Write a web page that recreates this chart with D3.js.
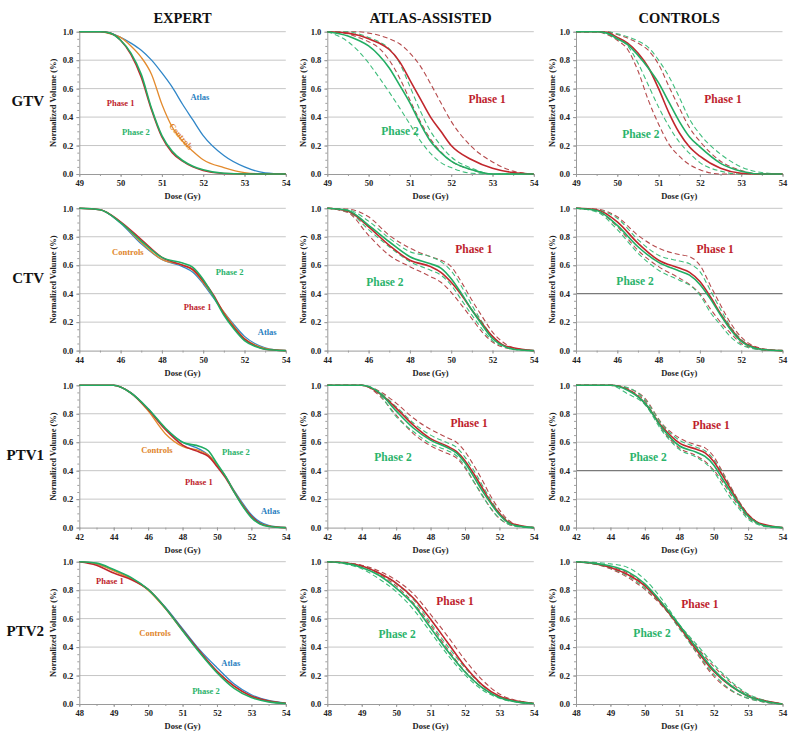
<!DOCTYPE html>
<html><head><meta charset="utf-8">
<script src="https://cdn.jsdelivr.net/npm/d3@7"></script>
<style>body{margin:0;background:#fff}</style></head>
<body><svg id="c" width="800" height="742"></svg>
<script>
// ---------------- DATA ----------------
const rows = ["GTV", "CTV", "PTV1", "PTV2"];
const columns = ["EXPERT", "ATLAS-ASSISTED", "CONTROLS"];
const doseDomains = [[49, 54], [44, 54], [42, 54], [48, 54]];
const doseTickStep = [1, 2, 2, 1];
const volumeTicks = [0, 0.2, 0.4, 0.6, 0.8, 1.0];

// dose sample grids (Gy), one per structure
const gtvDose  = [49, 49.5, 49.75, 50, 50.25, 50.5, 50.75, 51, 51.25, 51.5, 51.75, 52, 52.5, 53, 53.5, 54];
const ctvDose  = [44, 45, 46, 47, 48, 49, 49.5, 50, 50.5, 51, 51.5, 52, 52.5, 53, 54];
const ptv1Dose = [42, 44, 45, 46, 47, 48, 49, 49.5, 50, 50.5, 51, 51.5, 52, 52.5, 53, 54];
const ptv2Dose = [48, 48.5, 49, 49.5, 50, 50.5, 51, 51.5, 52, 52.5, 53, 53.5, 54];

// GTV
const gtvExpP1  = [1, 1, 0.99, 0.94, 0.84, 0.68, 0.45, 0.26, 0.15, 0.09, 0.05, 0.025, 0.003, 0, 0, 0];
const gtvExpP2  = [1, 1, 0.99, 0.94, 0.85, 0.70, 0.46, 0.27, 0.16, 0.095, 0.055, 0.03, 0.005, 0, 0, 0];
const gtvExpCtl = [1, 1, 0.985, 0.96, 0.9, 0.82, 0.7, 0.49, 0.33, 0.23, 0.16, 0.1, 0.045, 0.01, 0, 0];
const gtvExpAtl = [1, 1, 0.99, 0.96, 0.92, 0.87, 0.8, 0.71, 0.61, 0.49, 0.38, 0.27, 0.13, 0.05, 0.008, 0];
const gtvAtlP1   = [1, 0.99, 0.975, 0.95, 0.92, 0.875, 0.79, 0.66, 0.53, 0.4, 0.3, 0.2, 0.1, 0.04, 0.01, 0];
const gtvAtlP1hi = [1, 1, 1, 0.99, 0.975, 0.95, 0.915, 0.85, 0.76, 0.635, 0.5, 0.37, 0.19, 0.085, 0.02, 0];
const gtvAtlP1lo = [1, 0.985, 0.96, 0.93, 0.885, 0.8, 0.675, 0.52, 0.37, 0.245, 0.155, 0.09, 0.03, 0, 0, 0];
const gtvAtlP2   = [1, 0.97, 0.94, 0.9, 0.835, 0.745, 0.625, 0.5, 0.355, 0.23, 0.15, 0.09, 0.03, 0, 0, 0];
const gtvAtlP2hi = [1, 1, 0.985, 0.96, 0.93, 0.88, 0.78, 0.615, 0.445, 0.3, 0.2, 0.12, 0.04, 0, 0, 0];
const gtvAtlP2lo = [1, 0.93, 0.865, 0.78, 0.68, 0.575, 0.465, 0.35, 0.235, 0.145, 0.08, 0.045, 0.005, 0, 0, 0];
const gtvCtlP1   = [1, 1, 0.995, 0.96, 0.92, 0.85, 0.75, 0.6, 0.43, 0.29, 0.19, 0.125, 0.04, 0.005, 0, 0];
const gtvCtlP1hi = [1, 1, 1, 0.98, 0.955, 0.92, 0.87, 0.77, 0.615, 0.465, 0.325, 0.23, 0.09, 0.025, 0, 0];
const gtvCtlP1lo = [1, 1, 0.98, 0.94, 0.875, 0.725, 0.52, 0.35, 0.21, 0.125, 0.065, 0.03, 0, 0, 0, 0];
const gtvCtlP2   = [1, 1, 0.99, 0.95, 0.91, 0.835, 0.745, 0.64, 0.505, 0.37, 0.26, 0.19, 0.075, 0.02, 0, 0];
const gtvCtlP2hi = [1, 1, 1, 0.985, 0.965, 0.935, 0.89, 0.8, 0.685, 0.54, 0.385, 0.28, 0.14, 0.05, 0.01, 0];
const gtvCtlP2lo = [1, 1, 0.985, 0.95, 0.9, 0.78, 0.625, 0.47, 0.335, 0.225, 0.145, 0.08, 0.02, 0, 0, 0];

// CTV
const ctvExpP1  = [1, 0.99, 0.905, 0.78, 0.655, 0.6, 0.57, 0.49, 0.39, 0.26, 0.16, 0.08, 0.035, 0.01, 0];
const ctvExpP2  = [1, 0.99, 0.9, 0.77, 0.655, 0.615, 0.585, 0.5, 0.38, 0.25, 0.15, 0.07, 0.03, 0.01, 0];
const ctvExpCtl = [1, 0.99, 0.9, 0.76, 0.64, 0.6, 0.565, 0.48, 0.38, 0.27, 0.17, 0.085, 0.04, 0.015, 0];
const ctvExpAtl = [1, 0.99, 0.895, 0.75, 0.64, 0.59, 0.55, 0.47, 0.37, 0.27, 0.18, 0.1, 0.05, 0.02, 0];
const ctvAtlP1   = [1, 0.98, 0.87, 0.74, 0.635, 0.59, 0.55, 0.48, 0.39, 0.285, 0.19, 0.1, 0.04, 0.02, 0];
const ctvAtlP1hi = [1, 0.995, 0.94, 0.81, 0.72, 0.66, 0.635, 0.59, 0.48, 0.355, 0.24, 0.13, 0.06, 0.02, 0];
const ctvAtlP1lo = [1, 0.97, 0.81, 0.67, 0.59, 0.52, 0.48, 0.41, 0.32, 0.225, 0.13, 0.06, 0.025, 0.01, 0];
const ctvAtlP2   = [1, 0.985, 0.88, 0.765, 0.66, 0.61, 0.58, 0.505, 0.4, 0.285, 0.18, 0.085, 0.035, 0.01, 0];
const ctvAtlP2hi = [1, 0.99, 0.91, 0.79, 0.695, 0.66, 0.625, 0.56, 0.45, 0.32, 0.2, 0.1, 0.04, 0.015, 0];
const ctvAtlP2lo = [1, 0.975, 0.85, 0.73, 0.625, 0.565, 0.53, 0.46, 0.355, 0.25, 0.15, 0.07, 0.03, 0.01, 0];
const ctvCtlP1   = [1, 0.99, 0.905, 0.755, 0.635, 0.58, 0.55, 0.485, 0.38, 0.26, 0.155, 0.07, 0.03, 0.01, 0];
const ctvCtlP1hi = [1, 0.995, 0.94, 0.81, 0.72, 0.675, 0.66, 0.6, 0.46, 0.32, 0.19, 0.095, 0.04, 0.015, 0];
const ctvCtlP1lo = [1, 0.98, 0.87, 0.705, 0.59, 0.51, 0.465, 0.4, 0.295, 0.2, 0.12, 0.05, 0.02, 0.005, 0];
const ctvCtlP2   = [1, 0.985, 0.88, 0.73, 0.62, 0.56, 0.53, 0.465, 0.365, 0.25, 0.145, 0.065, 0.025, 0.008, 0];
const ctvCtlP2hi = [1, 0.99, 0.93, 0.78, 0.67, 0.63, 0.61, 0.555, 0.425, 0.29, 0.165, 0.08, 0.03, 0.01, 0];
const ctvCtlP2lo = [1, 0.975, 0.85, 0.685, 0.565, 0.495, 0.46, 0.39, 0.27, 0.18, 0.095, 0.04, 0.015, 0.005, 0];

// PTV1
const ptv1ExpP1  = [1, 1, 0.946, 0.83, 0.69, 0.58, 0.53, 0.5, 0.43, 0.35, 0.25, 0.155, 0.08, 0.03, 0.01, 0];
const ptv1ExpP2  = [1, 1, 0.946, 0.835, 0.7, 0.6, 0.57, 0.54, 0.45, 0.36, 0.25, 0.15, 0.07, 0.025, 0.008, 0];
const ptv1ExpCtl = [1, 1, 0.946, 0.82, 0.66, 0.57, 0.54, 0.51, 0.44, 0.36, 0.255, 0.16, 0.08, 0.03, 0.012, 0];
const ptv1ExpAtl = [1, 1, 0.948, 0.835, 0.695, 0.6, 0.55, 0.51, 0.44, 0.36, 0.26, 0.17, 0.09, 0.04, 0.015, 0];
const ptv1AtlP1   = [1, 1, 0.946, 0.84, 0.72, 0.625, 0.57, 0.535, 0.47, 0.38, 0.28, 0.18, 0.1, 0.04, 0.02, 0];
const ptv1AtlP1hi = [1, 1, 0.96, 0.875, 0.77, 0.69, 0.63, 0.6, 0.535, 0.44, 0.335, 0.22, 0.125, 0.055, 0.02, 0];
const ptv1AtlP1lo = [1, 1, 0.93, 0.79, 0.66, 0.575, 0.52, 0.49, 0.42, 0.325, 0.23, 0.135, 0.065, 0.025, 0.01, 0];
const ptv1AtlP2   = [1, 1, 0.95, 0.82, 0.7, 0.615, 0.56, 0.525, 0.455, 0.36, 0.26, 0.17, 0.09, 0.035, 0.012, 0];
const ptv1AtlP2hi = [1, 1, 0.955, 0.85, 0.735, 0.65, 0.595, 0.565, 0.495, 0.405, 0.3, 0.195, 0.105, 0.045, 0.015, 0];
const ptv1AtlP2lo = [1, 1, 0.94, 0.78, 0.675, 0.59, 0.54, 0.505, 0.43, 0.325, 0.225, 0.135, 0.065, 0.025, 0.008, 0];
const ptv1CtlP1   = [1, 1, 0.97, 0.875, 0.71, 0.595, 0.55, 0.525, 0.465, 0.37, 0.27, 0.17, 0.09, 0.04, 0.02, 0];
const ptv1CtlP1hi = [1, 1, 0.98, 0.91, 0.73, 0.63, 0.58, 0.56, 0.5, 0.395, 0.285, 0.18, 0.095, 0.04, 0.015, 0];
const ptv1CtlP1lo = [1, 1, 0.97, 0.89, 0.69, 0.56, 0.505, 0.465, 0.405, 0.325, 0.23, 0.145, 0.07, 0.03, 0.01, 0];
const ptv1CtlP2   = [1, 1, 0.965, 0.875, 0.7, 0.575, 0.53, 0.5, 0.44, 0.345, 0.25, 0.16, 0.08, 0.035, 0.012, 0];
const ptv1CtlP2hi = [1, 1, 0.985, 0.9, 0.725, 0.615, 0.565, 0.54, 0.48, 0.385, 0.28, 0.175, 0.09, 0.04, 0.015, 0];
const ptv1CtlP2lo = [1, 1, 0.94, 0.865, 0.68, 0.55, 0.495, 0.455, 0.395, 0.3, 0.205, 0.13, 0.06, 0.025, 0.008, 0];

// PTV2
const ptv2ExpP1  = [1, 0.975, 0.92, 0.875, 0.805, 0.675, 0.52, 0.37, 0.23, 0.125, 0.055, 0.02, 0.005];
const ptv2ExpP2  = [1, 0.99, 0.945, 0.89, 0.805, 0.675, 0.515, 0.36, 0.22, 0.11, 0.045, 0.015, 0.004];
const ptv2ExpCtl = [1, 0.985, 0.935, 0.88, 0.8, 0.67, 0.515, 0.365, 0.23, 0.125, 0.055, 0.02, 0.005];
const ptv2ExpAtl = [1, 0.985, 0.94, 0.885, 0.805, 0.68, 0.53, 0.38, 0.255, 0.14, 0.065, 0.025, 0.006];
const ptv2AtlP1   = [1, 0.993, 0.97, 0.92, 0.85, 0.745, 0.595, 0.43, 0.265, 0.135, 0.055, 0.02, 0.005];
const ptv2AtlP1hi = [1, 0.995, 0.975, 0.935, 0.87, 0.775, 0.63, 0.475, 0.31, 0.17, 0.07, 0.025, 0.005];
const ptv2AtlP1lo = [1, 0.99, 0.97, 0.915, 0.83, 0.71, 0.555, 0.385, 0.23, 0.115, 0.045, 0.015, 0];
const ptv2AtlP2   = [1, 0.99, 0.96, 0.905, 0.815, 0.7, 0.535, 0.37, 0.225, 0.115, 0.045, 0.015, 0.004];
const ptv2AtlP2hi = [1, 0.99, 0.97, 0.92, 0.845, 0.735, 0.57, 0.405, 0.255, 0.13, 0.055, 0.02, 0.005];
const ptv2AtlP2lo = [1, 0.985, 0.95, 0.88, 0.79, 0.665, 0.505, 0.345, 0.205, 0.1, 0.04, 0.012, 0.003];
const ptv2CtlP1   = [1, 0.988, 0.96, 0.91, 0.83, 0.7, 0.545, 0.38, 0.23, 0.125, 0.055, 0.02, 0];
const ptv2CtlP1hi = [1, 0.99, 0.965, 0.92, 0.84, 0.71, 0.555, 0.405, 0.265, 0.15, 0.065, 0.025, 0];
const ptv2CtlP1lo = [1, 0.985, 0.95, 0.89, 0.805, 0.69, 0.545, 0.36, 0.195, 0.095, 0.04, 0.012, 0];
const ptv2CtlP2   = [1, 0.99, 0.97, 0.93, 0.845, 0.71, 0.555, 0.395, 0.24, 0.13, 0.055, 0.018, 0];
const ptv2CtlP2hi = [1, 0.995, 0.985, 0.96, 0.875, 0.735, 0.56, 0.42, 0.28, 0.16, 0.07, 0.025, 0];
const ptv2CtlP2lo = [1, 0.985, 0.955, 0.9, 0.815, 0.695, 0.53, 0.365, 0.21, 0.1, 0.04, 0.012, 0];

// in-plot annotations: [row, col, text, series key, dose, volume, rotation]
const annotations = [
  [0, 0, "Atlas", "atl", 51.92, 0.535, 0], [0, 0, "Phase 1", "p1", 50.0, 0.49, 0],
  [0, 0, "Phase 2", "p2", 50.37, 0.29, 0], [0, 0, "Controls", "ctl", 51.45, 0.26, 50],
  [0, 1, "Phase 1", "p1", 52.87, 0.52, 0], [0, 1, "Phase 2", "p2", 50.76, 0.29, 0],
  [0, 2, "Phase 1", "p1", 52.56, 0.52, 0], [0, 2, "Phase 2", "p2", 50.57, 0.27, 0],
  [1, 0, "Controls", "ctl", 46.35, 0.685, 0], [1, 0, "Phase 2", "p2", 51.28, 0.545, 0],
  [1, 0, "Phase 1", "p1", 49.73, 0.3, 0], [1, 0, "Atlas", "atl", 53.1, 0.12, 0],
  [1, 1, "Phase 1", "p1", 51.1, 0.706, 0], [1, 1, "Phase 2", "p2", 46.79, 0.474, 0],
  [1, 2, "Phase 1", "p1", 50.74, 0.706, 0], [1, 2, "Phase 2", "p2", 46.86, 0.48, 0],
  [2, 0, "Controls", "ctl", 46.51, 0.54, 0], [2, 0, "Phase 2", "p2", 51.1, 0.526, 0],
  [2, 0, "Phase 1", "p1", 48.95, 0.315, 0], [2, 0, "Atlas", "atl", 53.1, 0.11, 0],
  [2, 1, "Phase 1", "p1", 50.24, 0.723, 0], [2, 1, "Phase 2", "p2", 45.82, 0.484, 0],
  [2, 2, "Phase 1", "p1", 49.85, 0.709, 0], [2, 2, "Phase 2", "p2", 46.19, 0.49, 0],
  [3, 0, "Phase 1", "p1", 48.89, 0.854, 0], [3, 0, "Controls", "ctl", 50.2, 0.495, 0],
  [3, 0, "Atlas", "atl", 52.4, 0.284, 0], [3, 0, "Phase 2", "p2", 51.68, 0.087, 0],
  [3, 1, "Phase 1", "p1", 51.71, 0.713, 0], [3, 1, "Phase 2", "p2", 50.03, 0.48, 0],
  [3, 2, "Phase 1", "p1", 51.6, 0.69, 0], [3, 2, "Phase 2", "p2", 50.21, 0.49, 0]
];

// ---------------- PANELS ----------------
const doseGrids = [gtvDose, ctvDose, ptv1Dose, ptv2Dose];
const panels = [
  [{atl: gtvExpAtl, ctl: gtvExpCtl, p1: gtvExpP1, p2: gtvExpP2},
   {p1hi: gtvAtlP1hi, p1lo: gtvAtlP1lo, p2hi: gtvAtlP2hi, p2lo: gtvAtlP2lo, p1: gtvAtlP1, p2: gtvAtlP2},
   {p1hi: gtvCtlP1hi, p1lo: gtvCtlP1lo, p2hi: gtvCtlP2hi, p2lo: gtvCtlP2lo, p1: gtvCtlP1, p2: gtvCtlP2}],
  [{atl: ctvExpAtl, ctl: ctvExpCtl, p1: ctvExpP1, p2: ctvExpP2},
   {p1hi: ctvAtlP1hi, p1lo: ctvAtlP1lo, p2hi: ctvAtlP2hi, p2lo: ctvAtlP2lo, p1: ctvAtlP1, p2: ctvAtlP2},
   {p1hi: ctvCtlP1hi, p1lo: ctvCtlP1lo, p2hi: ctvCtlP2hi, p2lo: ctvCtlP2lo, p1: ctvCtlP1, p2: ctvCtlP2}],
  [{atl: ptv1ExpAtl, ctl: ptv1ExpCtl, p1: ptv1ExpP1, p2: ptv1ExpP2},
   {p1hi: ptv1AtlP1hi, p1lo: ptv1AtlP1lo, p2hi: ptv1AtlP2hi, p2lo: ptv1AtlP2lo, p1: ptv1AtlP1, p2: ptv1AtlP2},
   {p1hi: ptv1CtlP1hi, p1lo: ptv1CtlP1lo, p2hi: ptv1CtlP2hi, p2lo: ptv1CtlP2lo, p1: ptv1CtlP1, p2: ptv1CtlP2}],
  [{atl: ptv2ExpAtl, ctl: ptv2ExpCtl, p1: ptv2ExpP1, p2: ptv2ExpP2},
   {p1hi: ptv2AtlP1hi, p1lo: ptv2AtlP1lo, p2hi: ptv2AtlP2hi, p2lo: ptv2AtlP2lo, p1: ptv2AtlP1, p2: ptv2AtlP2},
   {p1hi: ptv2CtlP1hi, p1lo: ptv2CtlP1lo, p2hi: ptv2CtlP2hi, p2lo: ptv2CtlP2lo, p1: ptv2CtlP1, p2: ptv2CtlP2}]
];

// ---------------- STYLE / LAYOUT ----------------
const styles = {
  atl:  {color: "#2f86c8", w: 1.3, dash: null},
  ctl:  {color: "#e38a2d", w: 1.3, dash: null},
  p1:   {color: "#c1272d", w: 1.6, dash: null},
  p2:   {color: "#22ad63", w: 1.6, dash: null},
  p1hi: {color: "#b54a4c", w: 1.1, dash: "5,3"},
  p1lo: {color: "#b54a4c", w: 1.1, dash: "5,3"},
  p2hi: {color: "#3fbd7c", w: 1.1, dash: "5,3"},
  p2lo: {color: "#3fbd7c", w: 1.1, dash: "5,3"}
};
const labelColors = {atl: "#2a7fc1", ctl: "#e0842a", p1: "#be1e2d", p2: "#2bb36b"};
const serif = "'Liberation Serif','Times New Roman',serif";
const colX = [79.3, 327.3, 576], plotW = 206.5;
const rowY = [31.7, 208.3, 385.3, 561.7], plotH = 142.3;
const darkGridPanels = [[1, 2], [2, 2]];

const svg = d3.select("#c");

columns.forEach((c, i) => {
  svg.append("text").attr("x", colX[i] + plotW / 2).attr("y", 22.5)
    .attr("text-anchor", "middle").attr("font-family", serif).attr("font-weight", "bold")
    .attr("font-size", 14.5).attr("fill", "#111").text(c);
});
rows.forEach((r, i) => {
  svg.append("text").attr("x", 44).attr("y", rowY[i] + plotH / 2)
    .attr("text-anchor", "end").attr("dominant-baseline", "middle")
    .attr("font-family", serif).attr("font-weight", "bold")
    .attr("font-size", 15).attr("fill", "#111").text(r);
});

rows.forEach((rn, r) => {
  columns.forEach((cn, c) => {
    const dom = doseDomains[r];
    const x = d3.scaleLinear().domain(dom).range([0, plotW]);
    const y = d3.scaleLinear().domain([0, 1]).range([plotH, 0]);
    const g = svg.append("g").attr("transform", `translate(${colX[c]},${rowY[r]})`);
    const dark = darkGridPanels.some(p => p[0] === r && p[1] === c);

    // gridlines
    g.selectAll("line.grid").data(volumeTicks.filter(v => v > 0)).join("line")
      .attr("class", "grid").attr("x1", 0).attr("x2", plotW)
      .attr("y1", d => y(d)).attr("y2", d => y(d))
      .attr("stroke", d => (dark && Math.abs(d - 0.4) < 1e-9) ? "#7a7a7a" : "#c6c6c6")
      .attr("stroke-width", d => (dark && Math.abs(d - 0.4) < 1e-9) ? 1.2 : 1);

    // minor ticks
    const minorY = d3.range(0, 1.0001, 0.05);
    g.append("g").call(d3.axisLeft(y).tickValues(minorY).tickSize(2).tickSizeOuter(0).tickFormat(""))
      .call(a => a.select(".domain").remove())
      .selectAll("line").attr("stroke", "#a0a0a0");
    const step = doseTickStep[r];
    const minorX = d3.range(dom[0], dom[1] + 0.001, step / 2);
    g.append("g").attr("transform", `translate(0,${plotH})`)
      .call(d3.axisBottom(x).tickValues(minorX).tickSize(2).tickSizeOuter(0).tickFormat(""))
      .call(a => a.select(".domain").remove())
      .selectAll("line").attr("stroke", "#a0a0a0");

    // axes
    const xt = d3.range(dom[0], dom[1] + 0.001, step);
    const xa = g.append("g").attr("transform", `translate(0,${plotH})`)
      .call(d3.axisBottom(x).tickValues(xt).tickFormat(d3.format("d")).tickSize(3).tickPadding(3).tickSizeOuter(0));
    const ya = g.append("g")
      .call(d3.axisLeft(y).tickValues(volumeTicks).tickFormat(d3.format(".1f")).tickSize(3).tickPadding(3).tickSizeOuter(0));
    [xa, ya].forEach(a => {
      a.select(".domain").attr("stroke", "#9a9a9a").attr("stroke-width", 1);
      a.selectAll(".tick line").attr("stroke", "#9a9a9a");
      a.selectAll("text").attr("font-family", serif).attr("font-weight", "bold")
        .attr("font-size", 8.5).attr("fill", "#222");
    });

    // axis titles
    g.append("text").attr("x", plotW / 2).attr("y", plotH + 25)
      .attr("text-anchor", "middle").attr("font-family", serif).attr("font-weight", "bold")
      .attr("font-size", 8.5).attr("fill", "#222").text("Dose (Gy)");
    g.append("text").attr("transform", `translate(${c === 0 ? -23 : -21},${plotH / 2}) rotate(-90)`)
      .attr("text-anchor", "middle").attr("font-family", serif).attr("font-weight", "bold")
      .attr("font-size", 8.5).attr("fill", "#222").text("Normalized Volume (%)");

    // curves
    const dose = doseGrids[r];
    const line = d3.line().x((d, i) => x(dose[i])).y(d => y(d)).curve(d3.curveMonotoneX);
    const series = panels[r][c];
    Object.keys(series).forEach(k => {
      const s = styles[k];
      g.append("path").datum(series[k]).attr("d", line)
        .attr("fill", "none").attr("stroke", s.color).attr("stroke-width", s.w)
        .attr("stroke-dasharray", s.dash).attr("stroke-linejoin", "round");
    });

    // annotations
    annotations.filter(a => a[0] === r && a[1] === c).forEach(a => {
      const big = c > 0;
      g.append("text")
        .attr("transform", `translate(${x(a[4])},${y(a[5])}) rotate(${a[6]})`)
        .attr("text-anchor", "middle").attr("dominant-baseline", "middle")
        .attr("font-family", serif).attr("font-weight", "bold")
        .attr("font-size", big ? 11.5 : 8.5).attr("fill", labelColors[a[3]]).text(a[2]);
    });
  });
});
</script></body></html>
